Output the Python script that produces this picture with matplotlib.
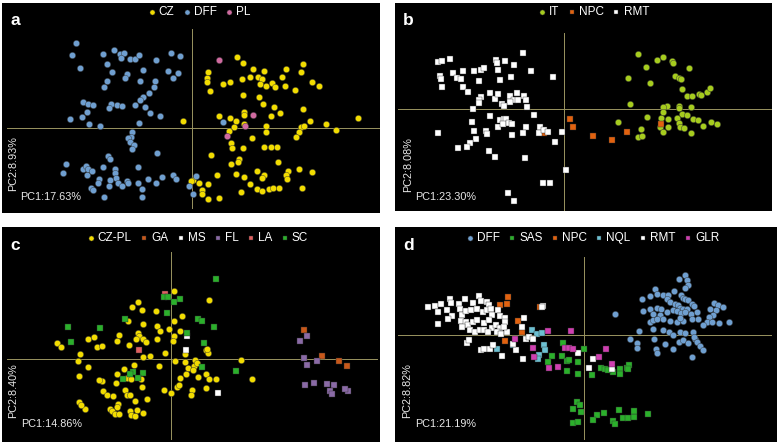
import numpy as np
import matplotlib
matplotlib.use("Agg")
import matplotlib.pyplot as plt

plt.rcParams['font.family'] = ['Liberation Sans', 'DejaVu Sans']

# ---------------- Panel a data (PC1, PC2 scores) ----------------
a_dff = [(-348,253),(-360,217),(-268,220),(-236,234),(-217,222),(-205,223),(-215,208),(-187,207),(-171,207),(-159,218),
         (-109,203),(-63,223),(-37,215),(-337,179),(-257,191),(-242,167),(-196,161),(-203,149),(-147,173),(-74,169),
         (-42,163),(-58,150),(-157,141),(-112,139),(-255,140),(-265,123),(-115,121),(-129,105),(-149,91),(-157,83),
         (-327,77),(-312,70),(-297,69),(-244,70),(-249,60),(-225,67),(-212,65),(-173,67),(-142,61),(-127,45),
         (-97,35),(-317,48),(-332,33),(-367,26),(-310,12),(-277,5),(-159,15),(-180,-13),(-184,-27),(-194,-30),
         (-187,-42),(-175,-52),(-182,-64),(-107,-77),(-254,-85),(-247,-94),(-268,-117),(-232,-123),(-380,-109),(-387,-137),
         (-327,-124),(-319,-115),(-312,-125),(-317,-142),(-302,-129),(-281,-154),(-283,-167),(-231,-135),(-228,-152),(-247,-157),
         (-222,-165),(-197,-160),(-192,-167),(-162,-167),(-164,-119),(-134,-155),(-110,-165),(-90,-147),(-57,-142),(-50,-155),
         (-305,-182),(-297,-188),(-249,-175),(-210,-175),(-152,-185),(-151,-207),(-266,-209),(-10,-175),(3,-200),(10,-144),
         (93,18)]
a_cz = [(133,211),(153,193),(331,191),(182,175),(214,171),(281,177),(326,168),(46,166),(43,148),(45,136),
        (52,111),(92,130),(113,138),(148,145),(173,153),(198,153),(210,146),(204,131),(220,125),(238,133),
        (248,123),(268,151),(279,125),(309,114),(358,136),(381,125),(153,97),(199,93),(213,71),(245,63),
        (332,56),(154,48),(156,38),(235,35),(264,43),(79,35),(112,29),(131,21),(-27,21),(154,11),
        (220,6),(124,2),(109,-9),(353,21),(402,11),(430,-7),(498,30),(327,3),(334,5),(321,-14),
        (310,-28),(220,-14),(180,-30),(116,-45),(120,-60),(153,-60),(216,-57),(236,-57),(255,-58),(57,-81),
        (139,-95),(136,-104),(117,-108),(256,-102),(321,-123),(359,-132),(287,-129),(280,-142),(283,-153),(193,-131),
        (215,-142),(209,-152),(130,-139),(156,-147),(73,-142),(172,-169),(3,-157),(-3,-160),(20,-165),(46,-170),
        (28,-187),(30,-200),(47,-214),(79,-212),(146,-194),(195,-184),(209,-190),(231,-183),(243,-182),(261,-181),
        (329,-181)]
a_pl = [(79,204),(181,39),(158,6),(104,-25)]

# ---------------- Panel b data ----------------
b_rmt = [(-123,169),(-380,141),(-367,143),(-343,150),(-373,100),(-370,89),(-368,67),(-335,107),(-323,94),(-310,90),
         (-303,115),(-272,114),(-251,117),(-240,124),(-206,147),(-203,137),(-178,144),(-151,132),(-200,117),(-99,115),
         (-34,97),(-256,84),(-192,87),(-159,95),(-304,66),(-288,52),(-251,37),(-255,27),(-257,17),(-223,47),
         (-207,29),(-198,45),(-164,40),(-143,49),(-150,27),(-163,20),(-187,14),(-180,9),(-122,40),(-115,27),
         (-112,7),(-140,27),(-275,0),(-223,-20),(-91,-17),(-278,-39),(-199,-55),(-192,-33),(-181,-29),(-175,-31),
         (-183,-45),(-165,-41),(-156,-44),(-116,-55),(-124,-71),(-156,-77),(-272,-66),(-236,-66),(-233,-76),(-266,-90),
         (-283,-101),(-291,-113),(-318,-116),(-380,-73),(-227,-125),(-208,-143),(-118,-147),(-74,-53),(-75,-73),(-60,-63),
         (-48,-70),(-6,-68),(-27,-98),(4,-183),(-63,-223),(-42,-223),(-169,-251),(-152,-276)]
b_npc = [(17,-30),(26,-54),(87,-81),(143,-94),(188,-69),(290,-45),(-61,-73)]
b_it = [(222,164),(277,147),(295,157),(323,144),(327,139),(245,126),(374,124),(191,93),(258,79),(332,99),
        (343,92),(350,90),(353,59),(367,38),(384,39),(405,45),(411,42),(427,52),(436,63),(197,14),
        (307,10),(297,5),(343,9),(343,2),(379,7),(297,-8),(354,-15),(367,-18),(249,-24),(289,-28),
        (311,-31),(339,-28),(385,-30),(402,-33),(441,-39),(459,-44),(417,-50),(160,-38),(287,-53),(311,-53),
        (345,-43),(347,-53),(359,-56),(230,-60),(297,-68),(381,-72),(220,-84),(234,-80)]

# ---------------- Panel c data ----------------
c_czpl = [(9,204),(114,177),(-99,170),(-116,154),(-87,145),(-46,143),(32,128),(8,112),(-128,113),(-84,104),
          (-42,98),(-34,84),(-5,90),(26,83),(-157,72),(-161,54),(-100,77),(-96,68),(-105,60),(-83,60),
          (-76,50),(-42,58),(9,68),(7,52),(-250,60),(-231,64),(-223,35),(-208,37),(-343,48),(-329,36),
          (-126,42),(-273,13),(-279,-8),(-250,-25),(-275,-52),(-85,5),(-62,8),(-17,18),(13,-8),(42,13),
          (41,-10),(72,-3),(51,-28),(68,-23),(77,-12),(106,25),(112,18),(109,30),(209,-4),(242,-62),
          (-37,-21),(-110,-18),(-141,-32),(-161,-46),(-132,-58),(-121,-62),(-90,-60),(-164,-73),(-206,-68),(-215,-63),
          (-205,-96),(-191,-109),(-174,-113),(-138,-95),(-133,-110),(-124,-109),(-88,-84),(-73,-120),(-108,-127),(-158,-135),
          (-163,-146),(-184,-152),(-178,-157),(-168,-165),(-157,-167),(-123,-156),(-120,-168),(-108,-173),(-103,-155),(-84,-163),
          (-258,-152),(-275,-130),(-270,-140),(-20,-93),(0,-102),(17,-85),(23,-78),(27,-58),(44,-45),(66,-34),
          (104,-45),(114,-61),(134,-60),(80,-56),(106,-87),(64,-95),(60,-110)]
c_ga = [(400,85),(453,8),(504,-7),(527,-22)]
c_ms = [(44,25),(49,68),(142,-104)]
c_fl = [(407,67),(387,53),(400,2),(409,-20),(439,-8),(403,-78),(428,-74),(469,-75),(488,-80),(477,-97),
        (484,-105),(531,-96),(522,-90)]
c_la = [(-19,195),(-96,25)]
c_sc = [(134,240),(-20,185),(-8,185),(27,180),(9,170),(-13,137),(82,120),(93,113),(129,95),(-308,95),
        (-213,91),(-138,120),(-301,49),(49,78),(100,46),(196,-36),(-113,-39),(-83,-42),(-123,-45),(-98,-57),
        (-145,-60),(94,-26)]

# ---------------- Panel d data ----------------
d_dff = [(302,180),(284,168),(308,165),(311,150),(302,143),(213,138),(175,110),(199,119),(218,123),(238,122),
         (253,122),(271,132),(290,120),(296,112),(303,108),(311,105),(323,95),(331,88),(248,108),(258,100),
         (273,95),(283,90),(288,83),(296,78),(308,80),(391,98),(401,92),(418,85),(396,76),(378,80),
         (388,62),(376,55),(368,40),(384,40),(405,38),(436,40),(93,64),(178,72),(199,78),(218,82),
         (230,78),(208,65),(228,60),(248,70),(266,75),(278,72),(290,68),(303,70),(321,65),(338,70),
         (198,40),(206,45),(218,50),(238,50),(258,42),(278,40),(298,42),(288,52),(323,50),(343,50),
         (358,30),(208,20),(238,15),(256,10),(266,0),(288,10),(303,7),(326,10),(166,14),(138,-10),
         (158,-22),(160,-38),(210,-12),(243,-27),(268,-40),(286,-20),(298,-15),(313,-22),(333,-12),(331,-5),
         (338,-20),(348,-32),(358,-45),(323,-65),(215,-40),(218,-52)]
d_sas = [(-62,-23),(1,-40),(-95,-62),(-109,-80),(-67,-63),(-52,-78),(-45,-73),(-19,-80),(-52,-108),(-19,-116),
         (23,-118),(50,-97),(63,-100),(88,-110),(108,-100),(108,-115),(128,-97),(136,-88),(133,-100),(73,-105),
         (-22,-200),(-12,-210),(-32,-220),(-9,-230),(40,-238),(61,-232),(106,-223),(118,-248),(133,-247),(150,-245),
         (151,-227),(193,-235),(28,-255),(-32,-263),(-17,-260),(86,-257),(93,-267)]
d_npc = [(-227,115),(-232,95),(-252,90),(-133,85),(-197,43),(-185,10),(-237,-17)]
d_nql = [(-157,15),(-142,3),(-127,8),(-262,-42),(-214,-28),(-120,-30),(-117,-43),(-134,-58),(-137,-70)]
d_rmt = [(-467,85),(-447,88),(-429,95),(-402,108),(-399,98),(-375,95),(-357,110),(-334,97),(-315,118),(-310,102),
         (-290,100),(-284,92),(-437,70),(-412,75),(-397,58),(-372,78),(-367,62),(-354,72),(-339,75),(-320,80),
         (-304,70),(-292,75),(-280,78),(-277,60),(-257,75),(-252,57),(-237,52),(-439,35),(-370,42),(-354,40),
         (-347,30),(-334,40),(-320,45),(-300,38),(-286,45),(-277,22),(-264,30),(-252,22),(-237,40),(-367,25),
         (-342,15),(-327,10),(-312,15),(-300,15),(-287,10),(-262,10),(-248,5),(-232,10),(-352,-22),(-345,-15),
         (-310,-43),(-300,-40),(-282,-40),(-272,-30),(-245,-63),(-204,-44),(-212,-25),(-182,-70),(-187,25),(-174,-10),
         (-164,-5),(-152,-10),(-179,52),(-122,88),(-127,85),(-17,-52),(26,-72),(16,-98),(85,-100),(-240,25),
         (-407,50)]
d_glr = [(-109,14),(-40,12),(-208,-10),(-154,-38),(-150,-65),(-58,-37),(-44,-37),(-32,-40),(66,-40),(46,-65),
         (-77,-94),(-104,-97),(85,-85)]

# ---------------- Colours ----------------
YELLOW = '#f2dc00'
BLUE = '#6f9fd0'
PINK = '#d06aa0'
LGREEN = '#a6cc1e'
ORANGE = '#e2620f'
WHITE = '#ffffff'
GA_COL = '#c8581a'
PURPLE = '#8a6aa6'
LA_COL = '#e06060'
GREEN = '#2bb02b'
CYAN = '#6cc0d2'
MAGENTA = '#cf3fb0'
LINE = '#9a9460'

W, H = 778, 444
fig = plt.figure(figsize=(W / 100, H / 100), dpi=100)
fig.patch.set_facecolor('white')


def make_ax(L, R, T, B):
    ax = fig.add_axes([L / W, 1 - B / H, (R - L) / W, (B - T) / H])
    ax.set_facecolor('black')
    ax.set_xticks([])
    ax.set_yticks([])
    for s in ax.spines.values():
        s.set_visible(False)
    return ax


def panel(ax, xlim, ylim, hext, vext, series, legx, legy, letter, ylab, xlab, ylabpos, xlabpos):
    ax.set_xlim(*xlim)
    ax.set_ylim(*ylim)
    ax.plot(hext, [0, 0], color=LINE, lw=0.7, zorder=1)
    ax.plot([0, 0], vext, color=LINE, lw=0.7, zorder=1)
    handles = []
    for label, pts, marker, col in series:
        arr = np.array(pts, dtype=float)
        sz = 21 if marker == 'o' else 18
        h = ax.scatter(arr[:, 0], arr[:, 1], s=sz, marker=marker, c=col,
                       edgecolors='#303030', linewidths=0.3, zorder=3, label=label)
        handles.append(h)
    ax.legend(handles=handles, loc='upper center', bbox_to_anchor=(legx, legy),
              ncol=len(handles), frameon=False, fontsize=8.5, handletextpad=0.15,
              columnspacing=0.6, handlelength=0.9, borderaxespad=0, borderpad=0,
              labelcolor='white', markerscale=0.8)
    ax.text(0.035, 0.915, letter, transform=ax.transAxes, color='white',
            fontsize=12.5, fontweight='bold', ha='center', va='center')
    fig.text(ylabpos[0] / W, 1 - ylabpos[1] / H, ylab, color='#e8e8e8', fontsize=7.8,
             rotation=90, ha='center', va='center')
    fig.text(xlabpos[0] / W, 1 - xlabpos[1] / H, xlab, color='#e8e8e8', fontsize=7.8,
             ha='left', va='center')


axa = make_ax(2, 380, 3, 213)
panel(axa, (-571, 563), (-256, 374), [-557, 561], [-242, 295],
      [('CZ', a_cz, 'o', YELLOW), ('DFF', a_dff, 'o', BLUE), ('PL', a_pl, 'o', PINK)],
      0.52, 0.985, 'a', 'PC2:8.93%', 'PC1:17.63%', (13, 164), (20, 197))

axb = make_ax(395, 772, 3, 211)
panel(axb, (-508, 623), (-306, 318), [-498, 619], [-305, 227],
      [('IT', b_it, 'o', LGREEN), ('NPC', b_npc, 's', ORANGE), ('RMT', b_rmt, 's', WHITE)],
      0.525, 0.985, 'b', 'PC2:8.08%', 'PC1:23.30%', (408, 165), (415, 197))

axc = make_ax(2, 380, 227, 442)
panel(axc, (-507, 627), (-250, 395), [-493, 617], [-240, 320],
      [('CZ-PL', c_czpl, 'o', YELLOW), ('GA', c_ga, 's', GA_COL), ('MS', c_ms, 's', WHITE),
       ('FL', c_fl, 's', PURPLE), ('LA', c_la, 's', LA_COL), ('SC', c_sc, 's', GREEN)],
      0.515, 0.975, 'c', 'PC2:8.40%', 'PC1:14.86%', (13, 391), (21, 424))

axd = make_ax(395, 777, 227, 442)
panel(axd, (-567, 579), (-320, 325), [-557, 560], [-310, 235],
      [('DFF', d_dff, 'o', BLUE), ('SAS', d_sas, 's', GREEN), ('NPC', d_npc, 's', ORANGE),
       ('NQL', d_nql, 's', CYAN), ('RMT', d_rmt, 's', WHITE), ('GLR', d_glr, 's', MAGENTA)],
      0.515, 0.975, 'd', 'PC2:8.82%', 'PC1:21.19%', (407, 391), (415, 424))

fig.savefig('out.png', dpi=100, facecolor='white')
